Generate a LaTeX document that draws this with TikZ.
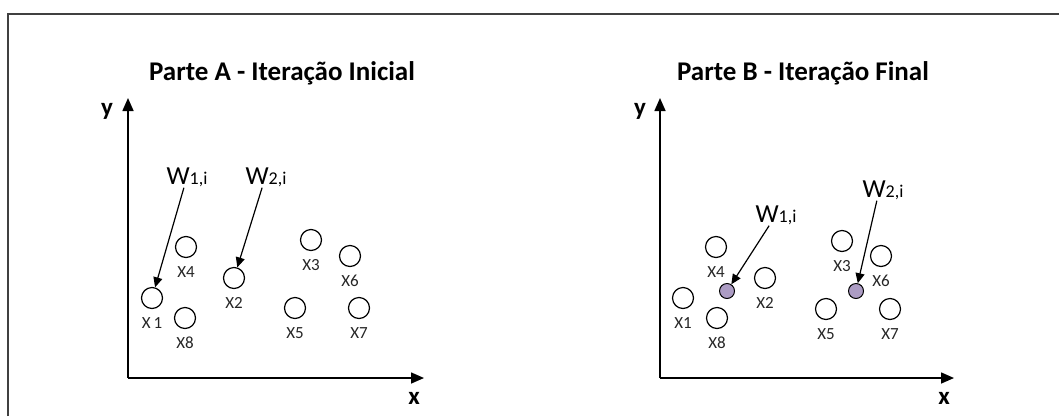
\documentclass[tikz,border=0pt]{standalone}
\usepackage{fontspec}
\setmainfont{Carlito}
\usetikzlibrary{positioning,arrows.meta}
\definecolor{centfill}{RGB}{172,156,196}

\begin{document}
\begin{tikzpicture}[x=1pt,y=-1pt,
  pt/.style={draw,circle,line width=1.2pt,minimum size=21pt,inner sep=0pt},
  cent/.style={draw,circle,line width=1pt,fill=centfill,minimum size=15pt,inner sep=0pt},
  lbl/.style={inner sep=0pt,font=\fontsize{17}{20}\selectfont,text=black!85},
  wlbl/.style={inner sep=1pt,font=\fontsize{26}{30}\selectfont},
  ttl/.style={font=\fontsize{27}{30}\selectfont\bfseries},
  axl/.style={font=\fontsize{25}{28}\selectfont\bfseries},
  ax/.style={line width=1.6pt,-{Triangle[length=13pt,width=11pt]}},
  wto/.style={line width=1.2pt,-{Triangle[length=10pt,width=9pt]}}]
  \useasboundingbox (0,0) rectangle (1059,416);
  % frame, runs off the page on the right and at the bottom
  \draw[line width=2pt,black!75] (8,416) -- (8,14) -- (1059,14);

  % part A: first iteration
  \node[ttl] (tA) at (282,73) {Parte A - Iteração Inicial};
  \coordinate (oA) at (128,378);
  \coordinate (yA) at (128,98);
  \coordinate (xA) at (424,378);
  \draw[ax] (oA) -- (yA);
  \draw[ax] (oA) -- (xA);
  \node[axl] (ya) at (107,111) {y};
  \node[axl] (xa) at (414,398) {x};
  \foreach \n/\px/\py/\t in {1/152/298/X\,1, 4/186/247/X4, 8/185/318/X8, 2/234/278/X2,
                             3/311/240/X3, 6/350/256/X6, 5/295/308/X5, 7/359/308/X7}{
    \node[pt] (a\n) at (\px,\py) {};
    \node[lbl,below=8pt of a\n] (la\n) {\t};
  }
  \node[wlbl] (w1a) at (187,177) {W{\fontsize{18}{20}\selectfont 1,i}};
  \node[wlbl] (w2a) at (266,177) {W{\fontsize{18}{20}\selectfont 2,i}};
  \draw[wto] (w1a) -- (a1);
  \draw[wto] (w2a.250) -- (a2);

  % part B: last iteration, centres moved into the groups
  \node[ttl] (tB) at (803,73) {Parte B - Iteração Final};
  \coordinate (oB) at (660,378);
  \coordinate (yB) at (660,98);
  \coordinate (xB) at (954,378);
  \draw[ax] (oB) -- (yB);
  \draw[ax] (oB) -- (xB);
  \node[axl] (yb) at (640,111) {y};
  \node[axl] (xb) at (944,398) {x};
  \foreach \n/\px/\py in {1/683/298, 4/716/247, 8/717/318, 2/765/278,
                          3/842/241, 6/881/256, 5/826/309, 7/890/309}{
    \node[pt] (b\n) at (\px,\py) {};
    \node[lbl,below=8pt of b\n] (lb\n) {X\n};
  }
  \node[cent] (c1) at (727,291) {};
  \node[cent] (c2) at (856,291) {};
  \node[wlbl] (w1b) at (776,215) {W{\fontsize{18}{20}\selectfont 1,i}};
  \node[wlbl] (w2b) at (883,190) {W{\fontsize{18}{20}\selectfont 2,i}};
  \draw[wto] (w1b) -- (c1);
  \draw[wto] (w2b.240) -- (c2);
\end{tikzpicture}
\end{document}
